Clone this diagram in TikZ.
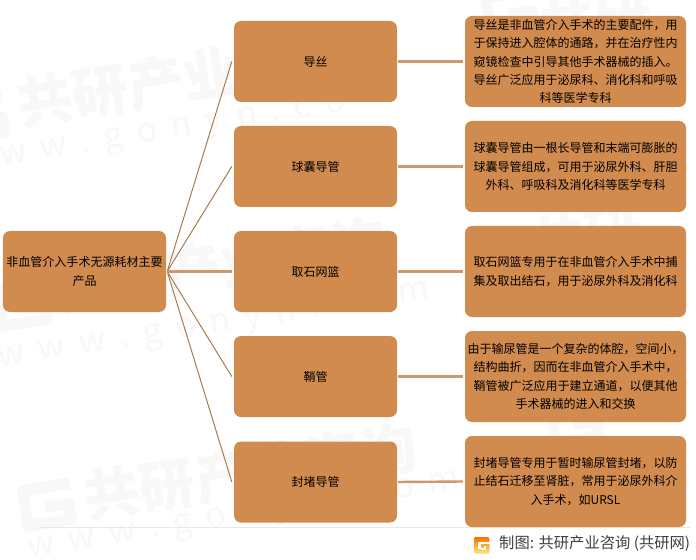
\documentclass[tikz,border=0pt]{standalone}
\usepackage{fontspec}
\setmainfont{Noto Sans CJK SC}
\definecolor{boxfill}{HTML}{D28B4E}
\definecolor{diag}{HTML}{AB7A4E}
\definecolor{hline}{HTML}{CC986C}
\definecolor{wm}{HTML}{F8F8F8}
\definecolor{rule}{HTML}{E8E8E8}
\definecolor{foot}{HTML}{404040}
\newcommand{\wwsp}{\hspace{14bp}}
\tikzset{
  card/.style={fill=boxfill,draw=none,rounded corners=7bp,inner sep=0pt,align=center,font=\fontsize{12bp}{18.4bp}\selectfont,text=black},
  leftcard/.style={card,minimum width=163bp,minimum height=81bp},
  midcard/.style={card,minimum width=163bp,minimum height=81bp},
  txtcard/.style={card,minimum width=221bp,minimum height=91bp},
  spoke/.style={diag,line width=1bp},
  bar/.style={hline,line width=2.4bp},
  wmbig/.style={text=wm,font=\fontsize{56bp}{60bp}\selectfont\bfseries,rotate=9,inner sep=0pt,anchor=west},
  wmsmall/.style={text=wm,font=\fontsize{34bp}{36bp}\selectfont,rotate=9,inner sep=0pt,anchor=west},
  wmg/.style={wm,line width=11bp,line join=round},
}
\newcommand{\wmG}[2]{\draw[wmg,shift={(#1,#2)},rotate=9] (25,-18) -- (-22,-18) -- (-22,18) -- (22,18) -- (22,2) -- (-2,2);}
\begin{document}
\begin{tikzpicture}[x=1bp,y=-1bp]
\useasboundingbox (0,0) rectangle (696,560);
\fill[white] (0,0) rectangle (696,560);
% watermark
\begin{scope}
\clip (0,0) rectangle (696,560);
\wmG{-20}{118}
\wmG{22}{305}
\wmG{47}{505}
\wmG{510}{12}
\wmG{575}{422}
\end{scope}
\node[wmbig] (w1) at (17,105) {共研产业};
\node[wmbig] (w3) at (55,292) {共研产业咨询};
\node[wmbig] (w2) at (84,498) {共研产业咨询};
\node[wmbig] (w4) at (540,28) {共研};
\node[wmbig] (w5) at (530,245) {共研};
\node[wmsmall] (w7) at (0,160) {w\wwsp w\wwsp.\wwsp g\wwsp o\wwsp n\wwsp y\wwsp n\wwsp.\wwsp c\wwsp o};
\node[wmsmall] (w8) at (-2,362) {w\wwsp w\wwsp w\wwsp.\wwsp g\wwsp o\wwsp n\wwsp y\wwsp n\wwsp.\wwsp c\wwsp o\wwsp m};
\node[wmsmall] (w9) at (28,552) {w\wwsp w\wwsp w\wwsp.\wwsp g\wwsp o\wwsp n\wwsp y\wwsp n\wwsp.\wwsp c\wwsp o\wwsp m};
% footer rule
\coordinate (ruleL) at (39,527);
\coordinate (ruleR) at (690,527);
\draw[rule,line width=1bp] (ruleL) -- (ruleR);
% cards
\node[leftcard] (root) at (84.5,271.5) {非血管介入手术无源耗材主要\\产品};
\node[midcard] (m1) at (315.5,61.5) {导丝};
\node[midcard] (m2) at (315.5,166.5) {球囊导管};
\node[midcard] (m3) at (315.5,271.5) {取石网篮};
\node[midcard] (m4) at (315.5,376.5) {鞘管};
\node[midcard] (m5) at (315.5,482) {封堵导管};
\node[txtcard] (t1) at (575.5,61.5) {导丝是非血管介入手术的主要配件，用\\于保持进入腔体的通路，并在治疗性内\\窥镜检查中引导其他手术器械的插入。\\导丝广泛应用于泌尿科、消化科和呼吸\\科等医学专科};
\node[txtcard] (t2) at (575.5,166.5) {球囊导管由一根长导管和末端可膨胀的\\球囊导管组成，可用于泌尿外科、肝胆\\外科、呼吸科及消化科等医学专科};
\node[txtcard] (t3) at (575.5,271.5) {取石网篮专用于在非血管介入手术中捕\\集及取出结石，用于泌尿外科及消化科};
\node[txtcard] (t4) at (575.5,376.5) {由于输尿管是一个复杂的体腔，空间小，\\结构曲折，因而在非血管介入手术中，\\鞘管被广泛应用于建立通道，以便其他\\手术器械的进入和交换};
\node[txtcard] (t5) at (575.5,481.5) {封堵导管专用于暂时输尿管封堵，以防\\止结石迁移至肾脏，常用于泌尿外科介\\入手术，如URSL};
% connectors
\foreach \i in {1,2,4,5}{
  \draw[spoke] ([xshift=1bp]root.east) -- ([xshift=-2bp]m\i.west);
}
\draw[bar] ([xshift=1bp]root.east) -- ([xshift=-2bp]m3.west);
\foreach \i in {1,...,5}{
  \draw[bar] ([xshift=1bp]m\i.east) -- ([xshift=-2bp]t\i.west);
}
% footer logo
\fill[rounded corners=1.5bp,top color=orange!85!red,bottom color=orange!30!yellow!60] (474,537) rectangle (489,553);
\fill[white] (478,541.5) rectangle (489.5,544);
\fill[white] (478,544) rectangle (480.5,549);
\fill[white] (484,546) rectangle (486,549);
\fill[white] (480.5,547.5) rectangle (486,549.5);
\node[anchor=west,inner sep=0pt,text=foot,font=\fontsize{15.3bp}{18bp}\selectfont] (src) at (499,544) {制图: 共研产业咨询 (共研网)};
\end{tikzpicture}
\end{document}
